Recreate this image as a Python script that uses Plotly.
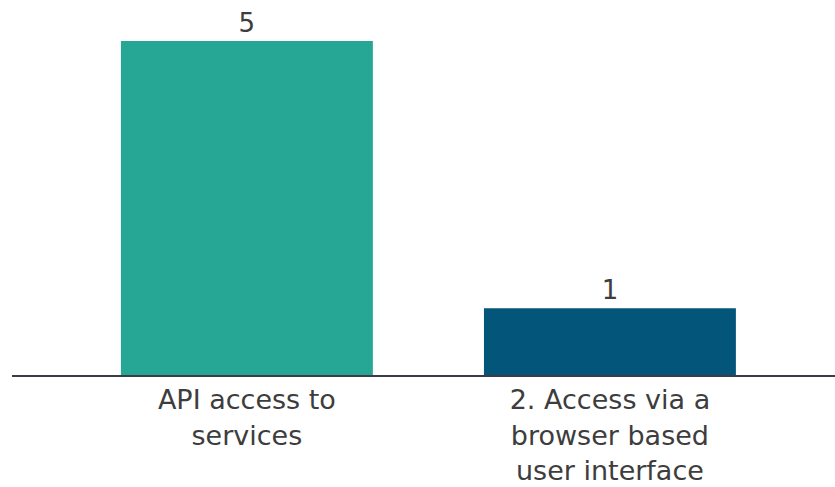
import plotly.graph_objects as go

# Survey answers and their counts
categories = ["API access to<br>services", "2. Access via a<br>browser based<br>user interface"]
counts = [5, 1]
bar_colors = ["#26A796", "#03557A"]

fig = go.Figure(
    go.Bar(
        x=categories,
        y=counts,
        marker=dict(color=bar_colors, line=dict(width=0)),
        width=0.694,
        text=[str(c) for c in counts],
        textposition="outside",
        cliponaxis=False,
        textfont=dict(size=26, color="#3d3d3d"),
    )
)

fig.update_layout(
    width=835,
    height=487,
    margin=dict(l=12, r=0, t=10, b=112),
    paper_bgcolor="white",
    plot_bgcolor="white",
    font=dict(family="DejaVu Sans, sans-serif", size=26, color="#3d3d3d"),
    showlegend=False,
    xaxis=dict(
        type="category",
        range=[-0.647, 1.620],
        showline=True,
        linecolor="#3c3c46",
        linewidth=2,
        showgrid=False,
        ticks="",
        tickfont=dict(size=27, color="#3d3d3d"),
        fixedrange=True,
    ),
    yaxis=dict(
        range=[0, 5.464],
        visible=False,
        showgrid=False,
        zeroline=False,
        fixedrange=True,
    ),
)

fig.write_html("out.html")
